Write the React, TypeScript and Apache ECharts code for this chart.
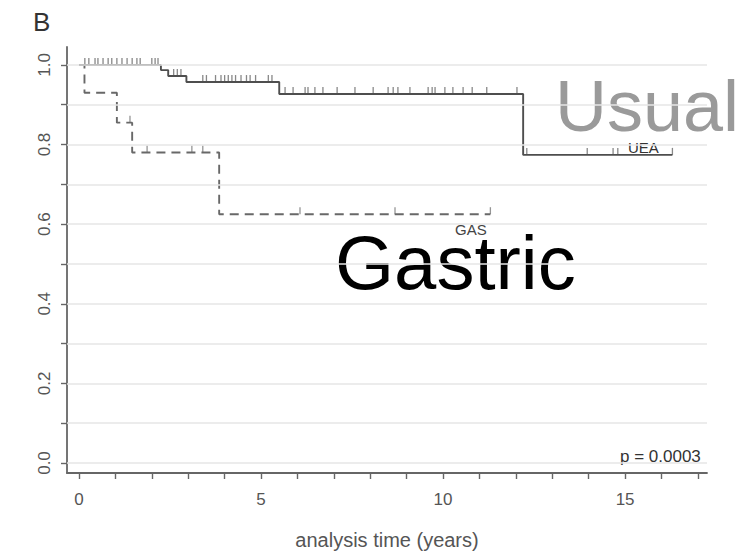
import React, { useEffect, useRef } from "react";
import * as echarts from "echarts";

// Kaplan–Meier step data (time in years, survival proportion)
const ueaTimes = [0, 2.25, 2.45, 2.95, 5.5, 12.2, 16.3];
const ueaSurv = [1, 0.987, 0.972, 0.957, 0.927, 0.774, 0.774];
const gasTimes = [0, 0.15, 1.04, 1.46, 3.85, 11.3];
const gasSurv = [1, 0.93, 0.855, 0.78, 0.625, 0.625];

// censoring times
const ueaCensor = [
  0.16, 0.27, 0.44, 0.52, 0.66, 0.8, 0.9, 1.04, 1.18, 1.32, 1.46, 1.59, 1.68, 2.0, 2.09, 2.17,
  2.6, 2.7, 2.8,
  3.4, 3.5, 3.75, 3.9, 4.0, 4.1, 4.2, 4.3, 4.45, 4.6, 4.7, 4.85, 5.2, 5.3,
  5.66, 5.88, 6.21, 6.29, 6.48, 6.7, 7.09, 7.58, 8.08, 8.49, 8.63, 8.76, 9.09, 9.59, 9.7, 9.78,
  10.05, 10.27, 10.55, 10.8, 11.2, 12.03,
  12.3, 13.96, 14.67, 14.8, 16.3,
];
const gasCensor = [1.4, 1.87, 3.1, 3.4, 6.07, 8.68, 11.3];

const xLabelValues = [0, 5, 10, 15];
const xTickValues = [0, 1, 2, 3, 4, 5, 6, 7, 8, 9, 10, 11, 12, 13, 14, 15, 16, 17];
const yLabelValues = [0, 0.2, 0.4, 0.6, 0.8, 1.0];
const yTickValues = [0, 0.1, 0.2, 0.3, 0.4, 0.5, 0.6, 0.7, 0.8, 0.9, 1.0];

function survAt(times: number[], surv: number[], t: number) {
  let v = surv[0];
  for (let i = 0; i < times.length; i++) if (times[i] <= t) v = surv[i];
  return v;
}

export default function App() {
  const ref = useRef<HTMLDivElement>(null);
  useEffect(() => {
    if (!ref.current) return;
    const chart = echarts.init(ref.current, null, { renderer: "svg" });
    const font = "Liberation Sans, Arial, sans-serif";
    const axisColor = "#666";
    chart.setOption({
      animation: false,
      backgroundColor: "#ffffff",
      grid: { left: 67, right: 49, top: 47, bottom: 82 },
      xAxis: {
        type: "value",
        min: -0.33,
        max: 17.25,
        splitLine: { show: false },
        axisLine: { show: true, onZero: false, lineStyle: { color: axisColor, width: 1.8 } },
        axisTick: { show: true, customValues: xTickValues, length: 6, lineStyle: { color: axisColor, width: 1.4 } },
        axisLabel: { customValues: xLabelValues, color: "#555", fontSize: 17, fontFamily: font, margin: 18 },
        name: "analysis time (years)",
        nameLocation: "middle",
        nameGap: 57,
        nameTextStyle: { color: "#555", fontSize: 20, fontFamily: font },
      },
      yAxis: {
        type: "value",
        min: -0.0251,
        max: 1.045,
        splitLine: { show: false },
        axisLine: { show: true, onZero: false, lineStyle: { color: axisColor, width: 1.8 } },
        axisTick: { show: true, customValues: yTickValues, length: 6, lineStyle: { color: axisColor, width: 1.4 } },
        axisLabel: {
          customValues: yLabelValues,
          rotate: 90,
          color: "#555",
          fontSize: 17,
          fontFamily: font,
          margin: 14,
          formatter: (v: number) => v.toFixed(1),
        },
      },
      series: [
        {
          type: "line",
          name: "grid",
          data: [],
          silent: true,
          markLine: {
            silent: true,
            symbol: "none",
            label: { show: false },
            lineStyle: { color: "#e6e6e6", width: 1.5, type: "solid" },
            data: yTickValues.map((v) => ({ yAxis: v })),
          },
        },
        {
          type: "line",
          name: "GAS",
          step: "end",
          showSymbol: false,
          data: gasTimes.map((t, i) => [t, gasSurv[i]]),
          lineStyle: { color: "#686868", width: 1.9, type: [9, 6] },
        },
        {
          type: "line",
          name: "UEA",
          step: "end",
          showSymbol: false,
          data: ueaTimes.map((t, i) => [t, ueaSurv[i]]),
          lineStyle: { color: "#4e4e4e", width: 1.9 },
        },
        {
          type: "scatter",
          name: "UEA censored",
          symbol: "rect",
          symbolSize: [1.3, 7],
          symbolOffset: [0, -3.5],
          itemStyle: { color: "#6a6a6a" },
          data: ueaCensor.map((t) => [t, survAt(ueaTimes, ueaSurv, t)]),
        },
        {
          type: "scatter",
          name: "GAS censored",
          symbol: "rect",
          symbolSize: [1.3, 7],
          symbolOffset: [0, -3.5],
          itemStyle: { color: "#7a7a7a" },
          data: gasCensor.map((t) => [t, survAt(gasTimes, gasSurv, t)]),
        },
      ],
      graphic: [
        { type: "text", x: 33, y: 22, style: { text: "B", fontSize: 26, fontFamily: font, fill: "#333", verticalAlign: "middle", lineHeight: 22 } },
        { type: "text", x: 555, y: 106, style: { text: "Usual", fontSize: 72, fontFamily: font, fill: "#9a9a9a", verticalAlign: "middle", lineHeight: 52 } },
        { type: "text", x: 335, y: 262, style: { text: "Gastric", fontSize: 76, fontFamily: font, fill: "#000", verticalAlign: "middle", lineHeight: 54 } },
        { type: "text", x: 628, y: 147, style: { text: "UEA", fontSize: 15, fontFamily: font, fill: "#333", verticalAlign: "middle", lineHeight: 12 } },
        { type: "text", x: 455, y: 229, style: { text: "GAS", fontSize: 15, fontFamily: font, fill: "#444", verticalAlign: "middle", lineHeight: 12 } },
        { type: "text", x: 620, y: 456, style: { text: "p = 0.0003", fontSize: 17, fontFamily: font, fill: "#333", verticalAlign: "middle", lineHeight: 14 } },
      ],
    });
    return () => chart.dispose();
  }, []);
  return <div ref={ref} style={{ position: "fixed", left: 0, top: 0, width: 756, height: 555 }} />;
}
